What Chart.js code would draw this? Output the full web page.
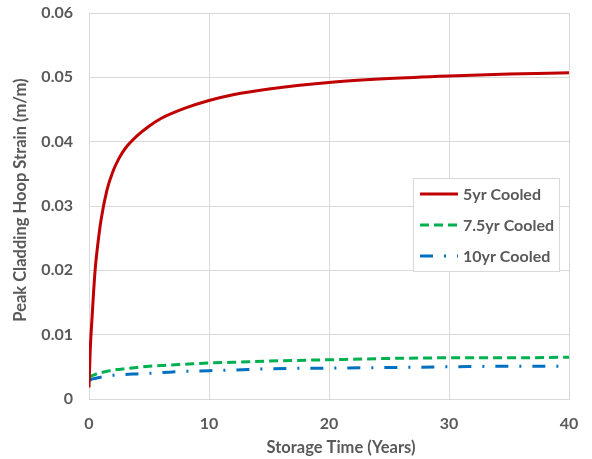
<!DOCTYPE html>
<html>
<head>
<meta charset="utf-8">
<script src="https://cdn.jsdelivr.net/npm/chart.js@4/dist/chart.umd.min.js"></script>
<style>
  html, body { margin: 0; padding: 0; background: #fff; }
  #wrap { width: 592px; height: 459px; position: relative; }
</style>
</head>
<body>
<div id="wrap"><canvas id="c" width="592" height="459"></canvas></div>
<script>
// Storage time (years) at which strain was evaluated
const years = [0, 0.1, 0.25, 0.5, 0.75, 1, 1.5, 2, 2.5, 3, 4, 5, 6, 8, 10, 12, 15, 20, 25, 30, 35, 40];

// Peak cladding hoop strain (m/m) for each cooling time
const strain5yr  = [0.0018, 0.0075, 0.0125, 0.0198, 0.0243, 0.0278, 0.0325, 0.0354, 0.0374, 0.0389, 0.0409, 0.0424, 0.0436, 0.0452, 0.0464, 0.0473, 0.0482, 0.0492, 0.0498, 0.0502, 0.0505, 0.0507];
const strain75yr = [0.0033, 0.0035, 0.0036, 0.0038, 0.0040, 0.0041, 0.0043, 0.0045, 0.0046, 0.0047, 0.0049, 0.0051, 0.0052, 0.0054, 0.0056, 0.0057, 0.0059, 0.0061, 0.0063, 0.0064, 0.0064, 0.0065];
const strain10yr = [0.0030, 0.0030, 0.0031, 0.0032, 0.0033, 0.0034, 0.0036, 0.0037, 0.0037, 0.0038, 0.0039, 0.0040, 0.0041, 0.0043, 0.0044, 0.0045, 0.0047, 0.0048, 0.0049, 0.0050, 0.0051, 0.0051];

const seriesLabels = ['5yr Cooled', '7.5yr Cooled', '10yr Cooled'];
const xTitle = 'Storage Time (Years)';
const yTitle = 'Peak Cladding Hoop Strain (m/m)';

const FONT = 'Lato, "Open Sans", sans-serif';
const TEXT = '#595959';
const GRID = '#D9D9D9';

const toPoints = (ys) => years.map((x, i) => ({ x, y: ys[i] }));

// Axis titles and a boxed legend inside the plot area
const annotations = {
  id: 'annotations',
  afterDraw(chart) {
    const ctx = chart.ctx;
    ctx.save();
    ctx.fillStyle = TEXT;
    ctx.textAlign = 'center';
    ctx.textBaseline = 'middle';
    ctx.font = 'bold 16.5px ' + FONT;
    ctx.fillText(xTitle, 341, 448);
    ctx.save();
    ctx.translate(21, 200);
    ctx.rotate(-Math.PI / 2);
    ctx.fillText(yTitle, 0, 0);
    ctx.restore();

    const x0 = 413.5, y0 = 178.5, w = 146, h = 93;
    ctx.fillStyle = '#fff';
    ctx.fillRect(x0, y0, w, h);
    ctx.strokeStyle = '#D9D9D9';
    ctx.lineWidth = 1;
    ctx.strokeRect(x0, y0, w, h);
    chart.data.datasets.forEach((ds, i) => {
      const cy = 194 + i * 31;
      ctx.beginPath();
      ctx.strokeStyle = ds.borderColor;
      ctx.lineWidth = ds.borderWidth;
      ctx.setLineDash(ds.borderDash || []);
      ctx.lineDashOffset = 0;
      ctx.moveTo(420, cy);
      ctx.lineTo(458, cy);
      ctx.stroke();
      ctx.setLineDash([]);
      ctx.fillStyle = TEXT;
      ctx.font = 'bold 16px ' + FONT;
      ctx.textBaseline = 'middle';
      ctx.textAlign = 'left';
      ctx.fillText(ds.label, 463, cy + 1);
    });
    ctx.restore();
  }
};

new Chart(document.getElementById('c'), {
  type: 'line',
  data: {
    datasets: [
      { label: seriesLabels[0], data: toPoints(strain5yr),  borderColor: '#C00000', borderWidth: 3, borderDash: [] },
      { label: seriesLabels[1], data: toPoints(strain75yr), borderColor: '#00B050', borderWidth: 3, borderDash: [9, 5] },
      { label: seriesLabels[2], data: toPoints(strain10yr), borderColor: '#0070C0', borderWidth: 3, borderDash: [13, 11, 2, 11] }
    ]
  },
  options: {
    responsive: false,
    animation: false,
    devicePixelRatio: 1,
    layout: { padding: { left: 0, right: 23, top: 13, bottom: 0 } },
    elements: {
      point: { radius: 0 },
      line: { cubicInterpolationMode: 'monotone', borderCapStyle: 'butt', fill: false }
    },
    plugins: { legend: { display: false }, tooltip: { enabled: false } },
    scales: {
      x: {
        type: 'linear', min: 0, max: 40,
        afterFit: (s) => { s.height = 60; s.paddingLeft = 0; s.paddingRight = 0; },
        ticks: { stepSize: 10, color: TEXT, padding: 15, font: { family: FONT, size: 16, weight: 'bold' } },
        grid: { color: GRID, drawTicks: false },
        border: { color: GRID }
      },
      y: {
        min: 0, max: 0.06,
        afterFit: (s) => { s.width = 89; s.paddingTop = 0; s.paddingBottom = 0; },
        ticks: { stepSize: 0.01, color: TEXT, padding: 16, font: { family: FONT, size: 16, weight: 'bold' } },
        grid: { color: GRID, drawTicks: false },
        border: { color: GRID }
      }
    }
  },
  plugins: [annotations]
});
</script>
</body>
</html>
